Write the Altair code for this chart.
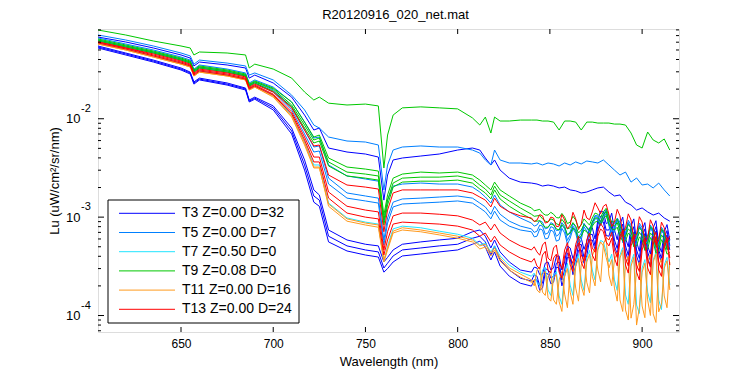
import altair as alt
import pandas as pd

FONT = "Arial, Liberation Sans, sans-serif"

# Wavelength grid (nm)
WL = [605, 620, 635, 650, 655, 657, 660, 675, 685, 687,
      690, 700, 710, 717, 722, 725, 730, 740, 750, 757,
      760, 762, 765, 770, 780, 790, 800, 808, 812, 815,
      818, 820, 823, 828, 834, 840, 843, 846, 849, 852,
      855, 858, 861, 864, 867, 870, 873, 876, 879, 882,
      885, 888, 891, 894, 897, 900, 903, 906, 909, 912, 915]
# extra samples in the noisy near-infrared tail (nm)
WL_MID = [841.5, 844.5, 847.5, 850.5, 853.5, 856.5, 859.5, 862.5, 865.5, 868.5,
          871.5, 874.5, 877.5, 880.5, 883.5, 886.5, 889.5, 892.5, 895.5, 898.5,
          901.5, 904.5, 907.5, 910.5, 913.5]

# Lu values in units of 1e-4 uW/cm^2/sr/nm
T3_A = [677, 603, 524, 445, 414, 344, 377, 352, 328, 259,
        278, 231, 166, 109, 76.8, 80.5, 50.4, 45.9, 43.8, 40.8,
        14.9, 26.8, 38.1, 39.9, 41.8, 43.8, 48.1, 50.4, 48.1, 39.9,
        33.9, 38.1, 30.1, 24.9, 22.7, 22.2, 21.7, 20.7, 21.2, 20.7,
        19.8, 20.2, 18.9, 18.5, 17.6, 18.0, 18.9, 19.8, 20.2, 18.0,
        16.4, 16.8, 14.2, 13.3, 11.8, 12.4, 11.3, 10.5, 11.0, 9.8, 9.1]
T3_B = [549, 466, 395, 328, 298, 237, 259, 231, 205, 155,
        166, 135, 80.5, 38.1, 18.9, 16.8, 7.4, 5.86, 5.3, 5.1,
        3.5, 3.9, 4.64, 5.3, 5.6, 5.86, 6.1, 7.1, 7.4, 6.4,
        4.86, 5.86, 4.43, 3.5, 2.9, 2.76, 3.04, 2.64, 3.5, 3.04,
        4.03, 3.5, 4.86, 4.43, 6.1, 5.6, 7.8, 9.35, 11.3, 8.9,
        7.4, 8.5, 6.1, 8.1, 5.6, 7.4, 5.1, 7.8, 5.3, 7.1, 5.86]
T3_B_MID = [3.1, 2.6, 3.4, 2.9, 4.0, 2.9, 5.1, 3.8, 6.3, 4.7, 7.8, 6.0, 11.5,
            8.6, 11.0, 5.9, 10.0, 5.0, 9.6, 4.5, 8.8, 4.2, 9.2, 4.4, 8.4]
T3_C = [536, 456, 386, 320, 292, 231, 253, 225, 201, 151,
        162, 129, 75.0, 33.9, 16.4, 14.9, 6.4, 5.1, 4.64, 4.43,
        3.04, 3.4, 4.03, 4.64, 4.86, 5.1, 5.3, 6.1, 6.4, 5.6,
        4.12, 5.1, 3.67, 2.9, 2.4, 2.24, 2.51, 2.13, 2.9, 2.51,
        3.5, 2.9, 4.12, 3.67, 5.3, 4.64, 6.7, 8.32, 9.8, 7.4,
        5.86, 7.1, 5.1, 6.7, 4.64, 6.4, 4.43, 6.7, 4.64, 6.1, 5.1]
T3_C_MID = [2.6, 2.0, 3.0, 2.4, 3.4, 2.3, 4.3, 3.0, 5.2, 3.9, 6.6, 5.1, 10.2,
            7.4, 9.1, 4.8, 8.5, 4.1, 8.0, 3.8, 7.6, 3.6, 8.0, 3.8, 7.3]
T3_D = [524, 445, 377, 313, 285, 225, 248, 220, 196, 148,
        158, 123, 70.0, 30.1, 14.2, 12.9, 5.6, 4.53, 4.12, 3.93,
        2.76, 3.0, 3.5, 4.03, 4.22, 4.43, 4.64, 5.3, 5.7, 4.97,
        3.67, 4.43, 3.18, 2.51, 2.13, 1.99, 2.3, 1.9, 2.64, 2.18,
        3.04, 2.51, 3.84, 3.18, 4.64, 4.03, 5.86, 7.4, 8.9, 6.4,
        5.1, 6.4, 4.43, 5.86, 4.03, 5.6, 3.84, 6.1, 4.22, 5.6, 4.64]
T3_D_MID = [2.3, 1.8, 2.7, 2.1, 3.1, 2.0, 3.9, 2.6, 4.6, 3.4, 5.8, 4.6, 9.0,
            6.5, 8.0, 4.2, 7.6, 3.6, 7.0, 3.3, 6.8, 3.2, 7.2, 3.5, 6.6]

T5_A = [710, 632, 549, 466, 435, 359, 395, 368, 344, 278,
        292, 248, 174, 123, 86.3, 80.5, 65.2, 59.4, 58.0, 54.1,
        18.9, 33.9, 48.1, 51.6, 52.9, 51.6, 51.6, 48.1, 44.8, 38.1,
        33.9, 48.1, 38.1, 35.5, 35.5, 34.7, 35.5, 33.9, 35.5, 34.7,
        33.1, 35.5, 33.9, 36.4, 34.7, 37.2, 36.4, 35.5, 38.1, 33.9,
        30.1, 26.8, 28.7, 22.7, 25.0, 21.2, 21.7, 19.8, 22.2, 18.9, 16.4]
T5_B = [663, 575, 500, 424, 395, 320, 352, 320, 292, 231,
        248, 210, 148, 92.5, 63.7, 65.2, 33.9, 26.2, 24.4, 23.2,
        8.9, 14.9, 20.7, 21.7, 22.2, 21.7, 21.7, 20.2, 18.0, 16.0,
        13.9, 16.8, 13.3, 11.3, 9.8, 8.7, 8.32, 8.9, 7.8, 8.5,
        7.4, 8.1, 7.1, 7.9, 6.9, 7.8, 8.9, 10.3, 10.7, 9.35,
        8.5, 7.6, 6.6, 7.8, 6.1, 7.4, 5.86, 7.1, 5.45, 6.6, 5.2]
T5_B_MID = [8.1, 9.2, 7.6, 8.8, 7.3, 8.8, 6.5, 8.6, 6.2, 8.6, 7.4, 10.4, 9.0,
            11.9, 8.0, 9.4, 6.2, 8.6, 5.6, 8.2, 5.2, 7.9, 4.9, 7.4, 4.7]
T5_C = [632, 549, 477, 405, 377, 306, 336, 306, 278, 220,
        237, 196, 132, 76.8, 51.6, 52.9, 24.9, 17.6, 16.4, 15.6,
        5.86, 9.8, 14.2, 15.3, 15.6, 16.0, 16.4, 15.6, 13.9, 12.7,
        10.7, 12.9, 10.7, 9.1, 8.1, 7.6, 7.2, 8.1, 6.9, 7.8,
        6.7, 7.6, 6.6, 7.4, 6.4, 7.8, 8.9, 10.0, 10.5, 8.9,
        7.8, 8.9, 6.9, 8.32, 6.1, 7.8, 5.86, 7.4, 5.6, 7.1, 5.3]
T5_C_MID = [7.0, 8.3, 6.7, 8.0, 6.4, 8.3, 5.8, 8.1, 5.6, 8.6, 7.0, 10.1, 8.6,
            11.6, 7.0, 9.8, 5.9, 9.3, 5.4, 8.7, 5.1, 8.3, 4.9, 7.9, 4.7]
T5_D = [617, 536, 466, 395, 368, 298, 328, 298, 272, 215,
        231, 187, 123, 70.0, 45.9, 47.0, 21.7, 15.6, 14.6, 13.9,
        5.21, 8.7, 12.7, 13.6, 13.9, 14.2, 14.6, 13.9, 12.4, 11.3,
        9.6, 11.5, 9.35, 8.1, 7.4, 7.1, 6.4, 7.4, 6.1, 7.1,
        5.86, 6.9, 6.1, 6.9, 5.86, 7.2, 8.32, 9.6, 9.8, 8.1,
        7.1, 8.5, 6.3, 7.8, 5.6, 7.2, 5.3, 6.9, 5.1, 6.6, 5.86]
T5_D_MID = [6.3, 7.6, 6.0, 7.4, 5.7, 7.7, 5.3, 7.6, 5.2, 8.0, 6.6, 9.6, 8.2,
            11.0, 6.4, 9.5, 5.5, 8.8, 5.0, 8.1, 4.6, 7.8, 4.4, 7.5, 4.9]

T7_A = [589, 512, 435, 368, 344, 278, 306, 278, 253, 201,
        215, 174, 109, 58.0, 33.9, 33.9, 13.9, 9.8, 8.9, 8.5,
        3.5, 5.1, 7.6, 8.1, 7.8, 7.2, 6.7, 6.1, 5.21, 5.45,
        4.43, 5.1, 4.03, 3.26, 2.76, 2.51, 2.18, 2.9, 1.82, 2.58,
        1.58, 2.76, 2.04, 3.5, 2.3, 3.84, 2.9, 4.86, 5.6, 3.5,
        2.3, 4.12, 1.62, 3.5, 1.28, 3.04, 1.73, 3.67, 1.44, 3.26, 2.04]
T7_A_MID = [2.7, 2.0, 3.1, 1.6, 2.8, 1.3, 3.4, 1.6, 4.2, 1.8, 4.6, 2.3, 5.8,
            4.4, 4.2, 1.8, 4.9, 1.3, 4.2, 1.05, 3.7, 1.35, 4.4, 1.15, 3.9]

T9_A = [798, 710, 617, 549, 524, 445, 477, 466, 445, 328,
        359, 320, 259, 187, 155, 166, 144, 138, 141, 135,
        31.6, 68.3, 109, 129, 132, 129, 126, 102, 86.3, 104,
        71.6, 104, 94.8, 94.8, 97, 97, 97, 94.8, 94.8, 92.5,
        76.8, 94.8, 94.8, 92.5, 76.8, 92.5, 92.5, 90.4, 90.4, 90.4,
        88.3, 88.3, 86.3, 71.6, 54.1, 50.4, 73.3, 60.8, 56.7, 62.3, 48.1]
T9_B = [647, 562, 488, 414, 386, 313, 344, 313, 285, 225,
        242, 205, 148, 92.5, 65.2, 68.3, 39.9, 32.3, 30.8, 29.4,
        10.5, 16.8, 24.9, 27.4, 28.7, 28.1, 28.7, 26.8, 23.8, 21.2,
        18.9, 22.7, 18.9, 16.4, 13.9, 12.4, 11.8, 11.0, 10.5, 10.7,
        9.8, 10.0, 8.9, 9.35, 8.32, 8.9, 9.8, 10.7, 11.3, 10.3,
        8.9, 8.1, 7.4, 7.8, 6.7, 7.2, 6.4, 7.4, 6.1, 6.9, 5.86]
T9_B_MID = [11.6, 12.0, 10.5, 11.2, 9.9, 10.9, 8.6, 10.2, 7.8, 9.6, 8.3, 11.0, 10.0,
            12.3, 9.0, 9.6, 7.2, 8.4, 6.6, 7.8, 6.2, 8.0, 5.8, 7.6, 5.5]
T9_C = [632, 549, 477, 405, 377, 306, 336, 306, 278, 220,
        237, 201, 138, 86.3, 60.8, 63.7, 36.4, 28.7, 27.4, 26.2,
        9.35, 14.9, 22.2, 24.9, 25.5, 25.5, 26.2, 24.4, 21.2, 19.3,
        16.8, 20.7, 16.8, 14.6, 12.4, 10.7, 10.3, 9.6, 8.9, 9.35,
        8.32, 8.7, 7.8, 8.1, 7.4, 7.9, 8.9, 9.8, 10.5, 9.35,
        8.1, 7.2, 6.4, 7.1, 5.86, 6.4, 5.45, 6.4, 5.1, 6.0, 4.86]
T9_C_MID = [10.2, 10.4, 9.1, 9.6, 8.6, 9.5, 7.6, 8.8, 6.9, 8.4, 7.3, 9.8, 9.0,
            11.4, 8.4, 8.8, 6.4, 7.6, 5.6, 7.0, 5.3, 6.9, 5.0, 6.6, 4.7]
T9_D = [617, 536, 466, 395, 368, 298, 328, 298, 272, 215,
        231, 191, 132, 80.5, 56.7, 59.4, 33.1, 26.2, 24.9, 23.8,
        8.32, 13.3, 20.2, 22.7, 23.2, 23.2, 23.8, 22.2, 19.3, 17.6,
        15.3, 18.9, 15.3, 12.9, 11.0, 9.6, 9.1, 8.32, 7.9, 8.32,
        7.4, 7.9, 6.9, 7.2, 6.4, 7.1, 8.1, 9.1, 9.6, 8.5,
        7.4, 6.4, 5.7, 6.4, 5.1, 5.86, 4.75, 5.6, 4.5, 5.3, 4.4]
T9_D_MID = [9.1, 9.2, 7.9, 8.5, 7.6, 8.4, 6.6, 7.8, 6.1, 7.4, 6.4, 8.9, 8.4,
            10.4, 7.6, 7.9, 5.7, 6.9, 5.0, 6.3, 4.6, 6.2, 4.3, 5.9, 4.2]

T11_A = [575, 500, 424, 359, 336, 272, 298, 272, 248, 196,
         210, 170, 106, 56.7, 32.3, 32.3, 12.9, 9.1, 8.32, 7.9,
         3.5, 4.64, 6.9, 7.4, 7.1, 6.6, 6.1, 5.6, 4.75, 4.97,
         4.03, 4.64, 3.58, 2.9, 2.46, 2.18, 1.82, 2.64, 1.51, 2.4,
         1.38, 2.51, 1.73, 3.18, 1.99, 3.5, 2.51, 4.64, 5.1, 3.04,
         1.9, 3.84, 1.14, 3.18, 0.80, 2.76, 1.44, 3.5, 1.09, 3.04, 1.82]
T11_A_MID = [2.3, 1.7, 2.8, 1.4, 2.6, 1.1, 3.0, 1.3, 3.8, 1.6, 4.2, 2.0, 5.6,
             3.9, 3.7, 1.4, 4.6, 0.9, 3.9, 1.2, 3.4, 1.0, 4.2, 1.3, 3.6]
T11_B = [575, 500, 424, 359, 336, 272, 298, 272, 248, 196,
         210, 166, 104, 54.1, 31.6, 31.6, 13.6, 9.6, 8.7, 8.32,
         3.67, 4.86, 7.2, 7.8, 7.4, 6.9, 6.4, 5.86, 5.1, 5.3,
         4.32, 4.86, 3.84, 3.04, 2.64, 2.3, 2.9, 1.73, 2.51, 1.44,
         2.3, 1.65, 2.9, 1.9, 3.26, 2.18, 4.03, 2.9, 5.3, 2.58,
         3.67, 1.44, 3.34, 0.94, 2.9, 1.25, 3.5, 1.04, 3.18, 1.58, 3.5]
T11_B_MID = [2.0, 3.1, 1.6, 2.8, 1.3, 2.8, 1.2, 3.5, 1.4, 3.9, 1.7, 4.8, 2.2,
             6.2, 2.0, 4.4, 1.1, 4.0, 1.3, 3.5, 0.95, 4.2, 0.85, 3.8, 1.2]

T13_A = [603, 524, 456, 386, 359, 292, 320, 292, 266, 210,
         225, 187, 129, 76.8, 52.9, 54.1, 26.8, 21.2, 20.2, 19.3,
         7.1, 11.8, 17.6, 18.9, 18.9, 18.9, 18.9, 17.6, 16.0, 14.9,
         12.7, 15.6, 12.9, 11.3, 10.3, 9.8, 9.35, 10.3, 8.9, 9.8,
         8.1, 9.35, 8.32, 9.6, 8.5, 9.8, 11.3, 12.4, 12.9, 10.7,
         8.9, 10.3, 7.8, 9.35, 6.7, 8.9, 6.1, 8.1, 5.86, 7.8, 6.4]
T13_A_MID = [9.0, 10.6, 8.7, 10.0, 8.0, 10.6, 7.6, 11.2, 7.5, 11.8, 9.4, 14.0, 10.8,
             13.5, 8.0, 12.0, 6.9, 10.8, 6.0, 10.1, 5.4, 9.4, 5.2, 8.9, 5.6]
T13_B = [603, 524, 445, 377, 352, 285, 313, 285, 259, 205,
         220, 178, 117, 65.2, 40.8, 40.8, 18.0, 12.9, 11.8, 11.3,
         4.64, 7.1, 10.3, 11.0, 11.0, 10.7, 10.3, 9.35, 8.32, 8.9,
         7.4, 8.5, 6.9, 5.86, 5.1, 4.64, 4.43, 5.21, 3.84, 4.86,
         3.5, 4.64, 3.84, 5.3, 4.12, 5.86, 4.86, 7.1, 7.8, 5.86,
         4.64, 6.4, 3.84, 5.6, 3.26, 5.21, 3.67, 6.1, 3.5, 5.3, 3.84]
T13_B_MID = [5.0, 4.1, 5.6, 3.6, 5.2, 3.0, 5.5, 3.4, 6.4, 3.6, 6.9, 4.4, 8.6,
             6.2, 7.0, 3.9, 7.4, 3.2, 6.6, 2.8, 6.2, 3.1, 7.0, 3.0, 6.2]
T13_C = [589, 512, 435, 368, 344, 278, 306, 278, 253, 201,
         215, 174, 112, 60.8, 36.4, 36.4, 15.6, 11.0, 10.0, 9.6,
         4.12, 5.86, 8.5, 8.9, 8.7, 8.5, 8.1, 7.4, 6.4, 6.9,
         5.6, 6.4, 5.21, 4.43, 3.84, 3.5, 3.18, 4.12, 2.9, 3.84,
         2.76, 4.03, 3.26, 4.64, 3.5, 5.1, 4.12, 6.4, 7.1, 5.1,
         3.84, 5.86, 3.26, 5.1, 2.76, 4.64, 3.04, 5.3, 2.9, 4.86, 3.26]
T13_C_MID = [3.8, 3.0, 4.5, 2.7, 4.2, 2.4, 4.8, 2.8, 5.5, 3.0, 6.0, 3.6, 7.6,
             5.6, 6.1, 3.2, 6.9, 2.7, 6.1, 2.3, 5.6, 2.6, 6.3, 2.5, 5.8]

GROUPS = ["T3", "T5", "T7", "T9", "T11", "T13"]
LABELS = ["T3 Z=0.00 D=32", "T5 Z=0.00 D=7", "T7 Z=0.50 D=0",
          "T9 Z=0.08 D=0", "T11 Z=0.00 D=16", "T13 Z=0.00 D=24"]
COLORS = ["#0000FF", "#0080FF", "#22E4FF", "#00C800", "#FF9A1E", "#FF0000"]
SERIES = {
    "T3": [(T3_A, None), (T3_B, T3_B_MID), (T3_C, T3_C_MID), (T3_D, T3_D_MID)],
    "T5": [(T5_A, None), (T5_B, T5_B_MID), (T5_C, T5_C_MID), (T5_D, T5_D_MID)],
    "T7": [(T7_A, T7_A_MID)],
    "T9": [(T9_A, None), (T9_B, T9_B_MID), (T9_C, T9_C_MID), (T9_D, T9_D_MID)],
    "T11": [(T11_A, T11_A_MID), (T11_B, T11_B_MID)],
    "T13": [(T13_A, T13_A_MID), (T13_B, T13_B_MID), (T13_C, T13_C_MID)],
}

X_TICKS = [650, 700, 750, 800, 850, 900]
Y_MAJOR = [1e-4, 1e-3, 1e-2]
Y_EXP = ["-4", "-3", "-2"]
Y_MINOR = [7e-5, 8e-5, 9e-5,
           2e-4, 3e-4, 4e-4, 5e-4, 6e-4, 7e-4, 8e-4, 9e-4,
           2e-3, 3e-3, 4e-3, 5e-3, 6e-3, 7e-3, 8e-3, 9e-3,
           2e-2, 3e-2, 4e-2, 5e-2, 6e-2, 7e-2, 8e-2]

rows = []
for g in GROUPS:
    for i, (vals, mids) in enumerate(SERIES[g]):
        assert len(vals) == len(WL), (g, i, len(vals))
        pts = list(zip(WL, vals))
        if mids is not None:
            assert len(mids) == len(WL_MID), (g, i, len(mids))
            pts += list(zip(WL_MID, mids))
        for w, v in pts:
            rows.append({"grp": g, "line": f"{g}_{i}", "wl": w, "lu": v * 1e-4})
df = pd.DataFrame(rows)

W, H = 581, 303
xscale = alt.Scale(domain=[605, 920], nice=False, zero=False)
yscale = alt.Scale(type="log", domain=[6.8e-5, 0.0817], nice=False)

x_axis = alt.Axis(values=X_TICKS, title="Wavelength (nm)", format="d", ticks=False, tickSize=0,
                  domain=False, grid=False, labelFontSize=12, labelFont=FONT, labelColor="black",
                  labelPadding=6, titleFontSize=13, titleFont=FONT, titleFontWeight="normal",
                  titleColor="black", titlePadding=6)
y_axis = alt.Axis(values=Y_MAJOR, labelExpr="'10'", title="Lu (uW/cm²/sr/nm)", ticks=False,
                  tickSize=0, domain=False, grid=False, labelFontSize=13, labelFont=FONT,
                  labelColor="black", labelPadding=18, titleFontSize=13, titleFont=FONT,
                  titleFontWeight="normal", titleColor="black", titlePadding=4)


def XE(f):
    return alt.X(f, scale=xscale, axis=x_axis)


def YE(f):
    return alt.Y(f, scale=yscale, axis=y_axis)


layers = []
for g, c in zip(GROUPS, COLORS):
    layers.append(
        alt.Chart(df).transform_filter(alt.datum.grp == g).mark_line(
            color=c, strokeWidth=1, clip=True).encode(
            x=XE("wl:Q"), y=YE("lu:Q"), detail="line:N", order="wl:Q")
    )

# inward tick marks (box style)
xt = pd.DataFrame({"wl": X_TICKS})
ymaj = pd.DataFrame({"lu": Y_MAJOR, "e": Y_EXP})
ymin = pd.DataFrame({"lu": Y_MINOR})
layers += [
    alt.Chart(xt).mark_rule(color="black", strokeWidth=1).encode(x=XE("wl:Q"), y=alt.value(H), y2=alt.value(H - 5)),
    alt.Chart(xt).mark_rule(color="black", strokeWidth=1).encode(x=XE("wl:Q"), y=alt.value(0), y2=alt.value(5)),
    alt.Chart(ymaj).mark_rule(color="black", strokeWidth=1).encode(y=YE("lu:Q"), x=alt.value(0), x2=alt.value(6)),
    alt.Chart(ymaj).mark_rule(color="black", strokeWidth=1).encode(y=YE("lu:Q"), x=alt.value(W), x2=alt.value(W - 6)),
    alt.Chart(ymin).mark_rule(color="black", strokeWidth=1).encode(y=YE("lu:Q"), x=alt.value(0), x2=alt.value(3)),
    alt.Chart(ymin).mark_rule(color="black", strokeWidth=1).encode(y=YE("lu:Q"), x=alt.value(W), x2=alt.value(W - 3)),
    alt.Chart(ymaj).mark_text(align="left", baseline="middle", fontSize=11, font=FONT, dy=-10,
                              color="black").encode(y=YE("lu:Q"), x=alt.value(-17), text="e:N"),
]

# legend box
one = pd.DataFrame({"a": [0]})
layers.append(
    alt.Chart(one).mark_rect(fill="white", stroke="black", strokeWidth=1).encode(
        x=alt.value(10), x2=alt.value(201), y=alt.value(171), y2=alt.value(294))
)
for i, (lab, c) in enumerate(zip(LABELS, COLORS)):
    yy = 184.3 + i * 19.2
    ld = pd.DataFrame({"label": [lab]})
    layers.append(alt.Chart(ld).mark_rule(color=c, strokeWidth=1).encode(
        x=alt.value(21), x2=alt.value(77), y=alt.value(yy)))
    layers.append(alt.Chart(ld).mark_text(align="left", baseline="middle", fontSize=14, font=FONT,
                                          color="black").encode(
        x=alt.value(84), y=alt.value(yy), text="label:N"))

chart = alt.layer(*layers).properties(
    width=W, height=H,
    title=alt.TitleParams("R20120916_020_net.mat", fontSize=13, font=FONT, fontWeight="normal",
                          color="black", anchor="middle", offset=7, dx=7),
    padding={"left": 90, "top": 21, "right": 40, "bottom": 40},
    autosize=alt.AutoSizeParams(type="none"),
).configure_view(stroke="black", strokeWidth=1).configure(background="white")

chart.save("out.html", embed_options={"renderer": "svg", "actions": False})
